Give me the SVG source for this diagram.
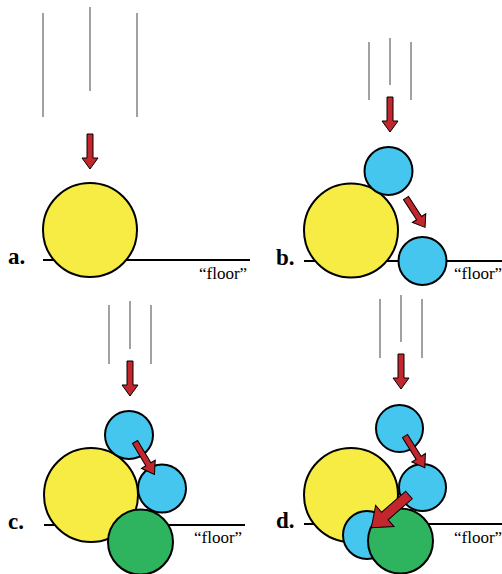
<svg xmlns="http://www.w3.org/2000/svg" width="502" height="574" viewBox="0 0 502 574">
<style>
.bg{fill:#ffffff}
.fall{stroke:#444;stroke-width:1;fill:none}
.floor{stroke:#000;stroke-width:2;fill:none}
.ball{stroke:#000;stroke-width:2}
.yellow{fill:#f7ec43}
.blue{fill:#45c6ef}
.green{fill:#2eb35f}
.arrow{fill:#c1272d;stroke:#000;stroke-width:1;stroke-linejoin:miter}
.lab{font-family:'Liberation Serif','DejaVu Serif',serif;font-weight:bold;font-size:23px;fill:#000}
.fl{font-family:'Liberation Serif','DejaVu Serif',serif;font-size:17px;fill:#000}
</style>
<defs>
<path id="arr" d="M-3,0 L3,0 L3,24 L8,24 L0,35 L-8,24 L-3,24 Z"/>
<path id="arrL" d="M-5,0 L5,0 L5,32 L14,32 L0,50 L-14,32 L-5,32 Z"/>
</defs>
<rect class="bg" width="502" height="574"/>

<g id="panel-a">
  <g id="rain-a">
    <line class="fall" x1="43" y1="13" x2="43" y2="117"/>
    <line class="fall" x1="90" y1="7" x2="90" y2="91"/>
    <line class="fall" x1="137" y1="13" x2="137" y2="117"/>
  </g>
  <line id="floor-a" class="floor" x1="43" y1="260" x2="250" y2="260"/>
  <g id="a-yellow"><circle class="ball yellow" cx="90" cy="230" r="47"/></g>
  <text class="lab" x="8" y="264">a.</text>
  <text class="fl" x="199" y="279">“floor”</text>
</g>

<g id="panel-b">
  <g id="rain-b">
    <line class="fall" x1="369" y1="42" x2="369" y2="100"/>
    <line class="fall" x1="390" y1="38" x2="390" y2="85"/>
    <line class="fall" x1="411" y1="42" x2="411" y2="100"/>
  </g>
  <line id="floor-b" class="floor" x1="304" y1="261" x2="502" y2="261"/>
  <g id="b-yellow"><circle class="ball yellow" cx="351" cy="230.5" r="47"/></g>
  <g id="b-blue1"><circle class="ball blue" cx="388.5" cy="171" r="24"/></g>
  <g id="b-blue2"><circle class="ball blue" cx="422.5" cy="261" r="24"/></g>
  <text class="lab" x="276" y="265">b.</text>
  <text class="fl" x="454" y="279">“floor”</text>
</g>

<g id="panel-c">
  <g id="rain-c">
    <line class="fall" x1="109" y1="305" x2="109" y2="364"/>
    <line class="fall" x1="130" y1="301" x2="130" y2="349"/>
    <line class="fall" x1="151" y1="305" x2="151" y2="364"/>
  </g>
  <line id="floor-c" class="floor" x1="44" y1="525" x2="245" y2="525"/>
  <g id="c-yellow"><circle class="ball yellow" cx="91" cy="495" r="47"/></g>
  <g id="c-blue1"><circle class="ball blue" cx="129" cy="435" r="24"/></g>
  <g id="c-blue2"><circle class="ball blue" cx="162" cy="488.5" r="24"/></g>
  <g id="c-green"><circle class="ball green" cx="140.5" cy="542" r="32.5"/></g>
  <text class="lab" x="8" y="529">c.</text>
  <text class="fl" x="194" y="543">“floor”</text>
</g>

<g id="panel-d">
  <g id="rain-d">
    <line class="fall" x1="380" y1="299" x2="380" y2="358"/>
    <line class="fall" x1="401" y1="295" x2="401" y2="342"/>
    <line class="fall" x1="422" y1="299" x2="422" y2="358"/>
  </g>
  <line id="floor-d" class="floor" x1="304" y1="524" x2="502" y2="524"/>
  <g id="d-yellow"><circle class="ball yellow" cx="351" cy="495" r="47"/></g>
  <g id="d-blue1"><circle class="ball blue" cx="399.5" cy="428.5" r="23.5"/></g>
  <g id="d-blue2"><circle class="ball blue" cx="422.5" cy="487.5" r="23.5"/></g>
  <g id="d-blue3"><circle class="ball blue" cx="367" cy="535" r="24"/></g>
  <g id="d-green"><circle class="ball green" cx="400.5" cy="541" r="32.5"/></g>
  <text class="lab" x="276" y="528">d.</text>
  <text class="fl" x="454" y="543">“floor”</text>
</g>

<g id="connectors">
  <use href="#arr" class="arrow" transform="translate(90,134)"/>
  <use href="#arr" class="arrow" transform="translate(390,97)"/>
  <use href="#arr" class="arrow" transform="translate(406,198) rotate(-33)"/>
  <use href="#arr" class="arrow" transform="translate(130,361)"/>
  <use href="#arr" class="arrow" transform="translate(135,442) rotate(-31) scale(1,1.08)"/>
  <use href="#arr" class="arrow" transform="translate(401,354)"/>
  <use href="#arr" class="arrow" transform="translate(405,436) rotate(-32) scale(1,1.07)"/>
  <use href="#arrL" class="arrow" transform="translate(409,495) rotate(49)"/>
</g>
</svg>
